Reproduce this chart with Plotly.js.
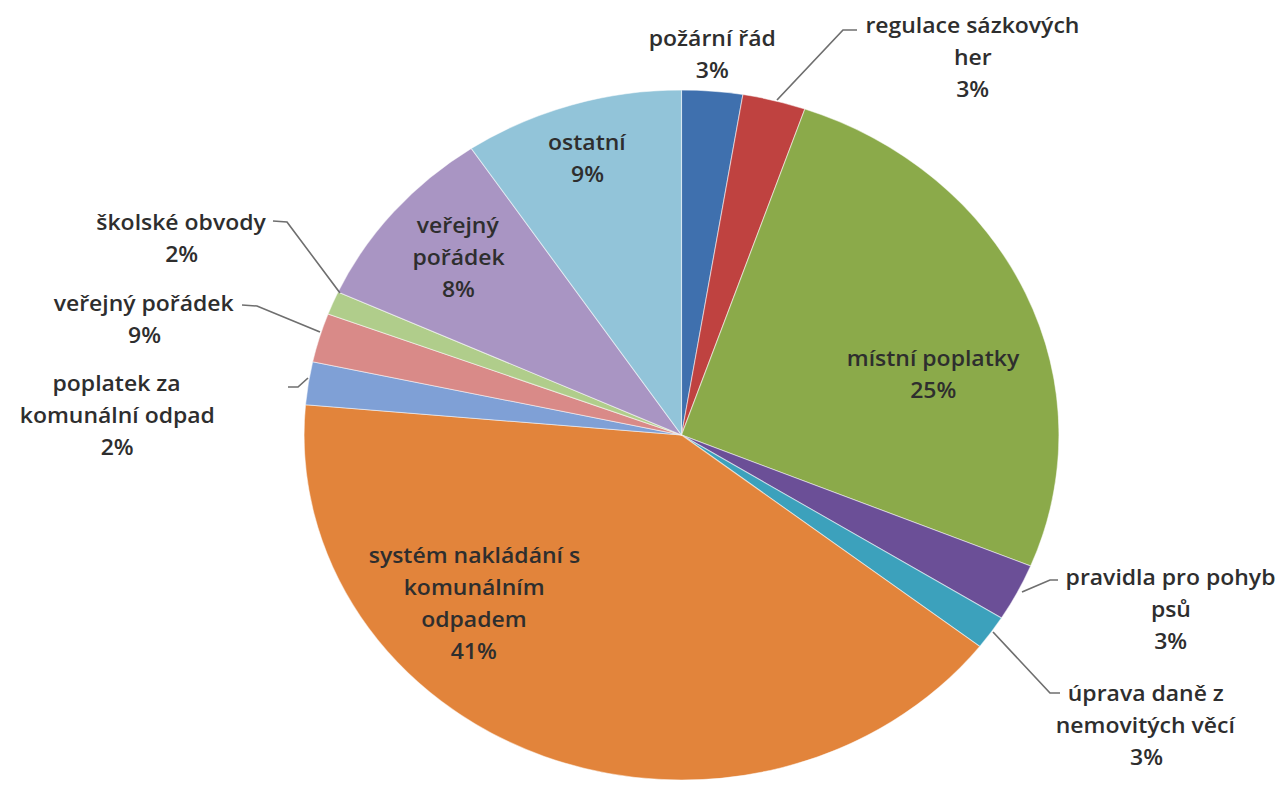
<!DOCTYPE html>
<html>
<head>
<meta charset="utf-8">
<script src="https://cdn.plot.ly/plotly-3.0.1.min.js"></script>
<style>
  html, body { margin: 0; padding: 0; background: #ffffff; overflow: hidden; }
  #chart { width: 1177px; height: 786px; transform: scaleX(1.094); transform-origin: 0 0; }
</style>
</head>
<body>
<div id="chart"></div>
<script>
// ---- data (clockwise from 12 o'clock) ----
const categories = [
  'požární řád',
  'regulace sázkových<br>her',
  'místní poplatky',
  'pravidla pro pohyb<br>psů',
  'úprava daně z<br>nemovitých věcí',
  'systém nakládání s<br>komunálním<br>odpadem',
  'poplatek za<br>komunální odpad',
  'veřejný pořádek',
  'školské obvody',
  'veřejný<br>pořádek',
  'ostatní'
];
const values = [2.6, 2.7, 25.9, 2.7, 1.6, 40.9, 2.0, 2.3, 1.1, 8.8, 9.4];
const percentLabels = ['3%', '3%', '25%', '3%', '3%', '41%', '2%', '9%', '2%', '8%', '9%'];
const colors = ['#3F70AE', '#BF4240', '#8BAA4A', '#6B4F97', '#3CA1BC', '#E2843B',
                '#7FA0D6', '#D98A88', '#B0CD8B', '#A995C3', '#92C4D9'];

// ---- layout helpers (screen px -> paper, accounting for horizontal stretch) ----
const S = 1.094, W = 1177, H = 786;
const px = X => (X / S) / W;
const py = Y => 1 - Y / H;

// label anchor (center of first line) in screen pixels
const labelPos = [
  [712, 38], [973, 25], [933, 358], [1171, 577], [1146, 693], [474, 555],
  [117, 383], [144, 303], [182, 222], [458, 225], [587, 142]
];
const lineGap = 32;

const annotations = [];
categories.forEach((c, i) => {
  const lines = (c + '<br>' + percentLabels[i]).split('<br>');
  lines.forEach((t, k) => {
    annotations.push({
      xref: 'paper', yref: 'paper',
      x: px(labelPos[i][0]), y: py(labelPos[i][1] + k * lineGap),
      text: t, showarrow: false, xanchor: 'center', yanchor: 'middle',
      font: { family: 'Open Sans, sans-serif', size: 21, weight: 600, color: '#2e2e2e' }
    });
  });
});

// leader lines (screen px)
const leaders = [
  [[857, 30], [843, 30], [777, 100]],
  [[1058, 580], [1050, 580], [1022, 592]],
  [[1060, 693], [1050, 693], [993, 632]],
  [[288, 387], [298, 387], [308, 378]],
  [[242, 305], [257, 306], [320, 332]],
  [[273, 221], [287, 222], [340, 293]]
];
const shapes = leaders.map(pts => ({
  type: 'path', xref: 'paper', yref: 'paper',
  path: pts.map((p, j) => (j ? 'L' : 'M') + px(p[0]) + ',' + py(p[1])).join(' '),
  line: { color: '#6f6f6f', width: 1.5 }
}));

const cx = 681.5 / S, cy = 435, R = 345;
const trace = {
  type: 'pie',
  labels: categories.map((c, i) => 's' + i),
  values: values,
  sort: false,
  direction: 'clockwise',
  rotation: 0,
  textinfo: 'none',
  hoverinfo: 'skip',
  marker: { colors: colors, line: { color: 'rgba(255,255,255,0.5)', width: 1 } },
  domain: { x: [(cx - R) / W, (cx + R) / W], y: [(H - cy - R) / H, (H - cy + R) / H] }
};

const layout = {
  width: W, height: H,
  margin: { l: 0, r: 0, t: 0, b: 0 },
  paper_bgcolor: '#ffffff',
  showlegend: false,
  annotations: annotations,
  shapes: shapes
};

Plotly.newPlot('chart', [trace], layout, { displayModeBar: false, staticPlot: true });
</script>
</body>
</html>
